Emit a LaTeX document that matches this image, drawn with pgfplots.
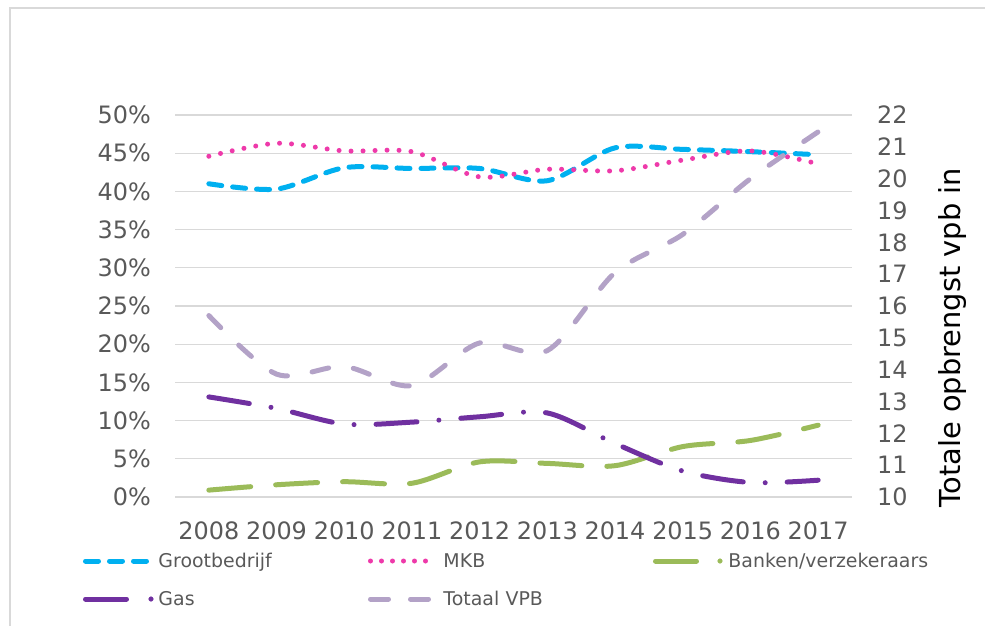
\documentclass[border=0pt]{standalone}
\usepackage{fontspec}
\setmainfont{DejaVu Sans}
\usepackage{pgfplots}
\pgfplotsset{compat=1.18}
\definecolor{groot}{HTML}{00B0F0}
\definecolor{mkb}{HTML}{EE3AAA}
\definecolor{bank}{HTML}{9BBB59}
\definecolor{gas}{HTML}{7030A0}
\definecolor{totaal}{HTML}{B3A2C7}
\definecolor{ticktext}{HTML}{595959}
\definecolor{gridgray}{HTML}{D9D9D9}

\pgfplotsset{
  basis/.style={
    scale only axis, width=677bp, height=382bp,
    at={(175bp,-497bp)}, anchor=south west,
    xmin=2007.5, xmax=2017.5,
    axis line style={draw=none}, major tick length=0pt,
    tick label style={font=\fontsize{24}{24}\selectfont, text=ticktext},
    /pgf/number format/assume math mode=true,
    /pgf/number format/1000 sep={},
  },
  lijn/.style={smooth, no markers, line width=5bp, line cap=round},
}

\begin{document}
\begin{tikzpicture}
  \useasboundingbox (0,0) rectangle (985bp,-626bp);
  \draw[gridgray, line width=1.5bp] (10bp,-8bp) rectangle (1010bp,-660bp);

  % linker as: aandelen in procenten
  \begin{axis}[basis,
    ymin=0, ymax=50, ytick={0,5,...,50},
    yticklabel={\pgfmathprintnumber{\tick}\%},
    yticklabel style={anchor=east, inner sep=0pt, xshift=-24bp},
    xtick={2008,...,2017},
    xticklabel style={anchor=base, inner sep=0pt, yshift=-42.3bp},
    ymajorgrids, grid style={gridgray, line width=1.2bp},
  ]
    \addplot[lijn, groot, dash pattern=on 13bp off 11bp] coordinates {
      (2008,41.0) (2009,40.3) (2010,43.1) (2011,43.0) (2012,43.0)
      (2013,41.4) (2014,45.7) (2015,45.5) (2016,45.2) (2017,44.8)};
    \addplot[lijn, mkb, line width=5bp, dash pattern=on 0bp off 12bp] coordinates {
      (2008,44.6) (2009,46.3) (2010,45.3) (2011,45.2) (2012,41.9)
      (2013,42.9) (2014,42.7) (2015,44.1) (2016,45.3) (2017,43.6)};
    \addplot[lijn, bank, dash pattern=on 42bp off 25bp] coordinates {
      (2008,0.9) (2009,1.6) (2010,2.0) (2011,1.8) (2012,4.6)
      (2013,4.4) (2014,4.1) (2015,6.6) (2016,7.4) (2017,9.4)};
    \addplot[lijn, gas, dash pattern=on 41bp off 22bp on 0bp off 22bp] coordinates {
      (2008,13.1) (2009,11.6) (2010,9.55) (2011,9.8) (2012,10.5)
      (2013,11.0) (2014,7.0) (2015,3.4) (2016,1.9) (2017,2.2)};
  \end{axis}

  % rechter as: totale opbrengst
  \begin{axis}[basis,
    ymin=10, ymax=22, ytick={10,...,22},
    yticklabel pos=right,
    yticklabel style={anchor=west, inner sep=0pt, xshift=25bp},
    xtick=\empty,
    legend columns=3,
    legend style={at={(-0.1359,-0.1453)}, anchor=north west,
      draw=none, fill=none, inner sep=0pt, outer sep=0pt, row sep=21bp,
      cells={anchor=west},
      nodes={text width=206bp, text height=15bp, text depth=2bp,
        inner xsep=3.5bp, inner ysep=0pt, text=ticktext,
        font=\fontsize{19}{19}\selectfont},
      /tikz/every even column/.append style={column sep=0pt}},
  ]
    \addlegendimage{legend image code/.code={
      \path[draw=none, fill=none] (0,-3bp) rectangle (72bp,3bp);
      \draw[groot, line width=5bp, line cap=round, dash pattern=on 13bp off 11bp]
        (2.5bp,0) -- (63.5bp,0);}}
    \addlegendentry{Grootbedrijf}
    \addlegendimage{legend image code/.code={
      \path[draw=none, fill=none] (0,-3bp) rectangle (72bp,3bp);
      \draw[mkb, line width=5bp, line cap=round, dash pattern=on 0bp off 11bp]
        (2.5bp,0) -- (58bp,0);}}
    \addlegendentry{MKB}
    \addlegendimage{legend image code/.code={
      \path[draw=none, fill=none] (0,-3bp) rectangle (72bp,3bp);
      \draw[bank, line width=5bp, line cap=round, solid] (2.5bp,0) -- (43.5bp,0);
      \fill[bank] (67bp,0) circle (2.3bp);}}
    \addlegendentry{Banken/verzekeraars}
    \addlegendimage{legend image code/.code={
      \path[draw=none, fill=none] (0,-3bp) rectangle (72bp,3bp);
      \draw[gas, line width=5bp, line cap=round, solid] (2.5bp,0) -- (43.5bp,0);
      \fill[gas] (68bp,0) circle (2.3bp);}}
    \addlegendentry{Gas}
    \addplot[lijn, totaal, dash pattern=on 17bp off 25bp,
      legend image code/.code={
        \path[draw=none, fill=none] (0,-3bp) rectangle (72bp,3bp);
        \draw[totaal, line width=5bp, line cap=round, solid]
          (2.5bp,0) -- (20.5bp,0) (42.5bp,0) -- (60.5bp,0);}]
      coordinates {
      (2008,15.7) (2009,13.86) (2010,14.1) (2011,13.5) (2012,14.84)
      (2013,14.6) (2014,17.05) (2015,18.25) (2016,20.0) (2017,21.47)};
    \addlegendentry{Totaal VPB}
  \end{axis}

  \node[rotate=90, anchor=base, font=\fontsize{29}{29}\selectfont]
    at (960bp,-337.5bp) {Totale opbrengst vpb in};
\end{tikzpicture}
\end{document}
